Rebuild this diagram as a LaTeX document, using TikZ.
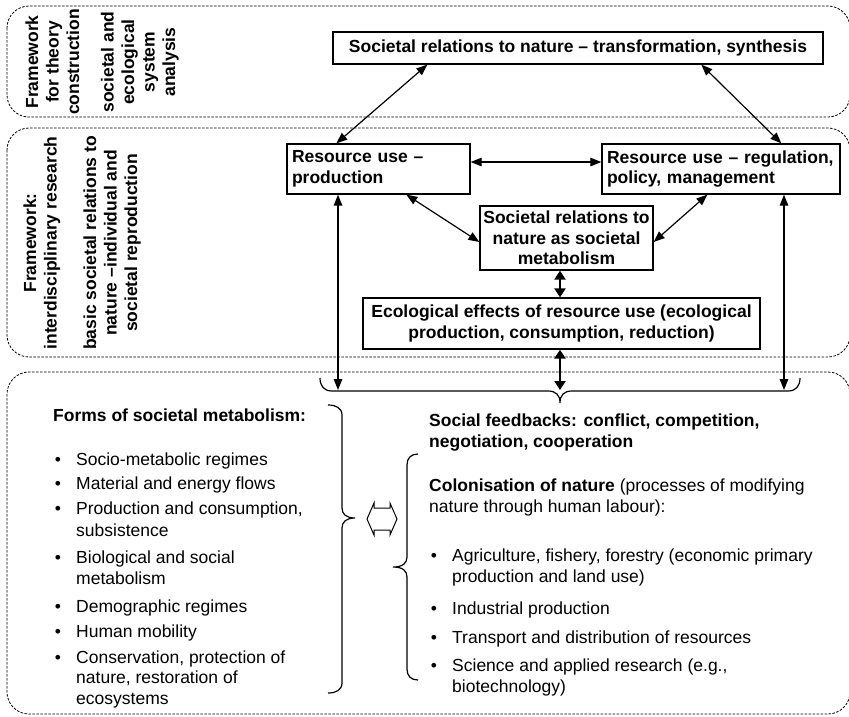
\documentclass[tikz,border=0pt]{standalone}
\usepackage{fontspec}
\setmainfont{Liberation Sans}
\usetikzlibrary{arrows.meta}
\begin{document}
\begin{tikzpicture}[x=1pt,y=-1pt,
  panel/.style={draw, dash pattern=on 2.5pt off 1.5pt, line width=0.8pt, rounded corners=22pt},
  boxtxt/.style={draw, line width=1.3pt, font=\fontsize{17.5}{20.5}\selectfont\bfseries, inner ysep=0pt},
  lbox/.style={boxtxt, align=left, inner xsep=5pt},
  cbox/.style={boxtxt, align=center, inner xsep=2pt},
  vlab/.style={rotate=90, align=center, inner sep=0pt, font=\fontsize{17.5}{20.5}\selectfont\bfseries},
  txt/.style={anchor=base west, inner sep=0pt, font=\fontsize{17.5}{21}\selectfont},
  bhead/.style={anchor=base west, inner sep=0pt, font=\fontsize{17.5}{21}\selectfont\bfseries},
  bul/.style={anchor=base, inner sep=0pt, font=\fontsize{17.5}{21}\selectfont},
  link/.style={line width=1.2pt, {Triangle[length=11pt,width=8.5pt]}-{Triangle[length=11pt,width=8.5pt]}},
  thicklink/.style={line width=2.2pt, {Triangle[length=9pt,width=11pt]}-{Triangle[length=9pt,width=11pt]}},
  bracestyle/.style={line width=1.2pt}
]
\useasboundingbox (0,0) rectangle (849,716);
\begin{scope}
\clip (0,0) rectangle (849,716);
\draw[panel] (7,6) rectangle (850,117);
\draw[panel] (7,128) rectangle (850,357);
\draw[panel] (7,372) rectangle (850,714);
\end{scope}

% side labels
\node[vlab] (lab1) at (102,62) {Framework\\for theory\\construction\\[14pt]societal and\\ecological\\system\\analysis};
\node[vlab] (lab2) at (82,243) {Framework:\\interdisciplinary research\\[19pt]basic societal relations to\\nature –individual and\\societal reproduction};

% boxes
\node[cbox, minimum width=490pt, minimum height=32pt] (top) at (578,48) {Societal relations to nature – transformation, synthesis};
\node[lbox, text width=173pt, minimum height=50pt] (prod) at (378.5,169) {Resource use –\\production};
\node[lbox, text width=228pt, minimum height=50pt] (reg) at (721,169) {Resource use – regulation,\\policy, management};
\node[cbox, minimum width=173pt, minimum height=64pt] (met) at (566.5,238) {Societal relations to\\nature as societal\\metabolism};
\node[cbox, minimum width=397pt, minimum height=51pt] (eco) at (561.5,323.5) {Ecological effects of resource use (ecological\\production, consumption, reduction)};

% brace coordinates
\coordinate (bL) at (338,390);
\coordinate (bM) at (560,390);
\coordinate (bR) at (784,390);

% connectors
\draw[link] ([xshift=95pt]top.south west) -- ([xshift=50pt]prod.north west);
\draw[link] ([xshift=369pt]top.south west) -- ([xshift=180pt]reg.north west);
\draw[link] ([yshift=7pt]prod.east) -- ([yshift=7pt]reg.west);
\draw[link] ([xshift=120pt]prod.south west) -- ([yshift=-4pt]met.west);
\draw[link] ([xshift=106pt]reg.south west) -- ([yshift=-4pt]met.east);
\draw[thicklink] (met.south -| bM) -- (eco.north -| bM);
\draw[thicklink] (eco.south -| bM) -- (bM);
\draw[link] (prod.south -| bL) -- (bL);
\draw[link] (reg.south -| bR) -- (bR);

% horizontal brace
\draw[bracestyle] (320,378) .. controls (320,386) and (324,391) .. (332,391) -- (548,391)
  .. controls (556,391) and (560,395) .. (560,403)
  .. controls (560,395) and (564,391) .. (572,391) -- (788,391)
  .. controls (796,391) and (800,386) .. (800,378);

% brace for forms list
\draw[bracestyle] (328,405) .. controls (336,405) and (342,408) .. (342,415) -- (342,508)
  .. controls (342,514) and (346,518) .. (355,518)
  .. controls (346,518) and (342,522) .. (342,528) -- (342,683)
  .. controls (342,690) and (336,693) .. (328,693);

% brace for colonisation list
\draw[bracestyle] (418,454) .. controls (411,454) and (407,458) .. (407,465) -- (407,557)
  .. controls (407,563) and (403,567) .. (393,567)
  .. controls (403,567) and (407,571) .. (407,577) -- (407,669)
  .. controls (407,676) and (411,680) .. (418,680);

% hollow double arrow
\draw[line width=1pt, line join=miter] (367,519) -- (374,503) -- (374,508) -- (390,508) -- (390,503) -- (397,519)
  -- (390,535) -- (390,530) -- (374,530) -- (374,535) -- cycle;

% left list
\node[bhead] (fh) at (53,421) {Forms of societal metabolism:};
\node[bul] (b1) at (58,465) {•};
\node[txt] (f1) at (76,465) {Socio-metabolic regimes};
\node[bul] (b2) at (58,489) {•};
\node[txt] (f2) at (76,489) {Material and energy flows};
\node[bul] (b3) at (58,514) {•};
\node[txt] (f3a) at (76,514) {Production and consumption,};
\node[txt] (f3b) at (76,536) {subsistence};
\node[bul] (b4) at (58,563) {•};
\node[txt] (f4a) at (76,563) {Biological and social};
\node[txt] (f4b) at (76,584) {metabolism};
\node[bul] (b5) at (58,612) {•};
\node[txt] (f5) at (76,612) {Demographic regimes};
\node[bul] (b6) at (58,637) {•};
\node[txt] (f6) at (76,637) {Human mobility};
\node[bul] (b7) at (58,663) {•};
\node[txt] (f7a) at (76,663) {Conservation, protection of};
\node[txt] (f7b) at (76,683) {nature, restoration of};
\node[txt] (f7c) at (76,704) {ecosystems};

% right list
\node[bhead] (sh1) at (429,426) {Social feedbacks: conflict, competition,};
\node[bhead] (sh2) at (429,447) {negotiation, cooperation};
\node[txt] (ch1) at (429,491) {\textbf{Colonisation of nature} (processes of modifying};
\node[txt] (ch2) at (429,512) {nature through human labour):};
\node[bul] (c1) at (434,561) {•};
\node[txt] (r1a) at (452,561) {Agriculture, fishery, forestry (economic primary};
\node[txt] (r1b) at (452,582) {production and land use)};
\node[bul] (c2) at (434,614) {•};
\node[txt] (r2) at (452,614) {Industrial production};
\node[bul] (c3) at (434,643) {•};
\node[txt] (r3) at (452,643) {Transport and distribution of resources};
\node[bul] (c4) at (434,671) {•};
\node[txt] (r4a) at (452,671) {Science and applied research (e.g.,};
\node[txt] (r4b) at (452,692) {biotechnology)};
\end{tikzpicture}
\end{document}
